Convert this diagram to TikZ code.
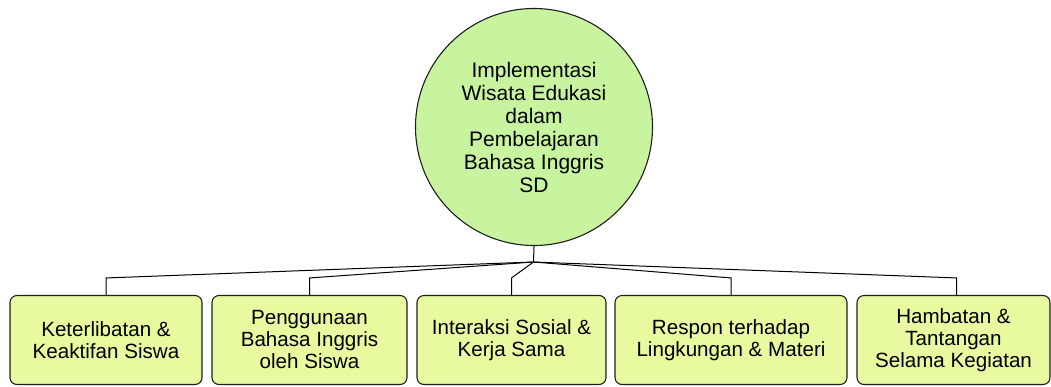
\documentclass[tikz,border=0pt]{standalone}
\usepackage{fontspec}
\setmainfont{Liberation Sans}
\definecolor{circfill}{RGB}{200,244,160}
\definecolor{boxfill}{RGB}{231,250,160}
\definecolor{edgecol}{RGB}{30,30,30}
\begin{document}
\begin{tikzpicture}[x=1pt,y=-1pt,
  hub/.style={circle, draw=edgecol, line width=1.1pt, fill=circfill, minimum size=237pt, inner sep=0pt,
    align=center, font=\fontsize{21}{23}\selectfont},
  topic/.style={draw=edgecol, line width=1.1pt, fill=boxfill, rounded corners=7pt, inner sep=0pt,
    minimum height=89pt, align=center, font=\fontsize{20.6}{22}\selectfont},
  link/.style={draw=black, line width=1pt}]
\useasboundingbox (0,0) rectangle (1051,386);
\node[hub] (c) at (534,127) {Implementasi\\Wisata Edukasi\\dalam\\Pembelajaran\\Bahasa Inggris\\SD};
\node[topic, minimum width=192pt] (b1) at (106,340) {Keterlibatan \&\\Keaktifan Siswa};
\node[topic, minimum width=195pt] (b2) at (309.5,340) {Penggunaan\\Bahasa Inggris\\oleh Siswa};
\node[topic, minimum width=189pt] (b3) at (511.5,340) {Interaksi Sosial \&\\Kerja Sama};
\node[topic, minimum width=232pt] (b4) at (731,340) {Respon terhadap\\Lingkungan \& Materi};
\node[topic, minimum width=193pt] (b5) at (953.5,340) {Hambatan \&\\Tantangan\\Selama Kegiatan};
\coordinate (j) at (533.5,262);
\draw[link] (c.south) -- (j);
\draw[link] (j) -- ([yshift=17pt]b1.north) -- (b1.north);
\draw[link] (j) -- ([yshift=17pt]b2.north) -- (b2.north);
\draw[link] (j) -- ([yshift=17pt]b3.north) -- (b3.north);
\draw[link] (j) -- ([yshift=17pt]b4.north) -- (b4.north);
\draw[link] (j) -- ([xshift=3pt,yshift=17pt]b5.north) -- ([xshift=3pt]b5.north);
\end{tikzpicture}
\end{document}
